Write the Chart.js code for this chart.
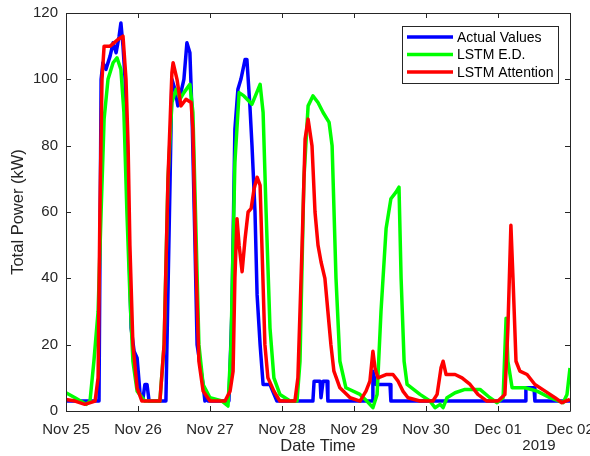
<!DOCTYPE html>
<html>
<head>
<meta charset="utf-8">
<script src="https://cdn.jsdelivr.net/npm/chart.js@4.4.1/dist/chart.umd.min.js"></script>
<style>
  html, body { margin: 0; padding: 0; background: #fff; }
  #wrap { width: 590px; height: 456px; }
</style>
</head>
<body>
<div id="wrap"><canvas id="c"></canvas></div>
<script>
// x 轴：小时（0 = Nov 25 00:00）
var dayLabels = ['Nov 25', 'Nov 26', 'Nov 27', 'Nov 28', 'Nov 29', 'Nov 30', 'Dec 01', 'Dec 02'];
var yearLabel = '2019';
var yTicks = [0, 20, 40, 60, 80, 100, 120];
var seriesNames = ['Actual Values', 'LSTM E.D.', 'LSTM Attention'];

var actualHours = [0, 10.3, 11, 11.7, 12.3, 13.3, 14.7, 15.7, 16.7, 17.7, 18.3, 19, 19.7, 20.7, 21.7, 22.7, 23.7, 24.7, 25.7, 26.3, 27, 27.7,
    33.3, 34.7, 35.3, 36.3, 37.3, 38.3, 39.3, 40.3, 41.3, 42, 43, 43.7, 44.7, 45.7, 46.3, 46.7, 47.3,
    54.3, 55.3, 56.3, 57.3, 58.3, 59.7, 60.3, 61.3, 62, 63, 63.7, 64.7, 65.7, 68, 70.3,
    82.3, 82.7, 84.7, 85, 85.7, 87, 87.3, 102, 102.3, 103.3, 105.7, 108, 108.3, 153, 153.3, 156, 156.3, 168];
var actualValues = [3, 3, 3, 100, 105, 103, 107, 111, 108, 113, 117, 110, 100, 60, 25, 18, 16, 5, 4, 8, 8, 3,
    3, 70, 100, 97, 92, 96, 100, 111, 108, 90, 50, 20, 14, 8, 3, 6, 3,
    3, 30, 85, 97, 100, 106, 106, 92, 80, 60, 35, 20, 8, 8, 3,
    3, 9, 9, 4, 9, 9, 3, 3, 12, 8, 8, 8, 3, 3, 7, 7, 3, 3];

var edHours = [0, 3, 6.7, 8, 9.3, 10.7, 11.7, 12.7, 14, 15.7, 17, 18.3, 19.3, 20.3, 21.3, 22.3, 23.7, 26.3,
    31.3, 32.7, 34, 35.3, 36.7, 38, 39.3, 41.3, 42.3, 43.3, 44.3, 45.7, 48, 52,
    54, 55, 56.3, 57.7, 59.3, 62, 64.7, 65.7, 66.7, 68, 69.3, 71.3, 74.7,
    77, 78, 79.3, 80.7, 82.3, 84, 85.7, 87.7, 88.7, 90, 91.3, 93.3, 98, 100.3,
    102.3, 103.7, 105, 106.7, 108.3, 110, 111, 111.7, 112.7, 113.7, 118, 121.3, 123, 124.7, 125.7, 127,
    129.7, 133, 138, 141.3, 143.7, 145.7, 146.7, 147.3, 148.7, 153, 157, 161.3, 165.7, 167, 168];
var edValues = [5.5, 4, 2, 3, 15, 30, 60, 88, 100, 105, 106.5, 103, 90, 60, 35, 15, 6, 3,
    3, 20, 70, 93, 97, 94, 96, 98.5, 90, 55, 20, 8, 4, 3,
    1.5, 20, 75, 96, 95, 92.5, 98.5, 90, 60, 25, 10, 5, 3,
    3, 15, 70, 92, 95, 93, 90, 87, 80, 40, 15, 7, 5, 3,
    1, 5, 30, 55, 64, 66, 67.5, 40, 15, 8, 5, 3, 1, 2, 1, 4,
    5.5, 6.5, 6.5, 4, 2.5, 4, 28, 15, 7, 7, 6, 4, 2.5, 5, 13];

var attnHours = [0, 3, 6.3, 9.7, 10.7, 11.3, 12, 12.7, 14.7, 16, 17.3, 19, 20, 20.7, 21.3, 22.3, 23.7, 25.3,
    31.3, 32.7, 34, 35.3, 35.7, 37, 38.3, 40, 41.7, 42.3, 43.3, 44.3, 45.7, 48,
    53, 54.7, 55.7, 56.3, 57, 57.7, 58.7, 59.7, 60.7, 61.7, 62.7, 63.7, 64.7, 65.3, 66.3, 67.3, 69.3, 71.3,
    76.3, 77.3, 78.7, 79.7, 80.7, 82, 83, 84, 85, 86.3, 87.3, 88.3, 89.3, 91.3, 94.7, 98,
    100, 101.3, 102.3, 103, 104, 106.7, 109, 110.7, 112.3, 114, 118, 122.3, 123.7, 125, 125.7, 126.7,
    129.7, 132, 134.7, 137.3, 140.3, 144, 146.3, 147.3, 148.3, 149, 150, 151.3, 153.7, 156.3, 159.7, 163, 165.3, 168];
var attnValues = [3.5, 3, 2, 3, 10, 60, 100, 110, 110, 111, 112, 113, 100, 80, 50, 20, 7, 3,
    3, 20, 70, 102, 105, 100, 92, 94, 93, 85, 45, 15, 6, 3,
    3, 6, 12, 40, 58, 50, 42, 52, 60, 61, 67, 70.5, 68, 50, 20, 10, 6, 3,
    3, 10, 50, 82, 88, 80, 60, 50, 45, 40, 30, 20, 12, 7, 4, 3,
    6, 9, 18, 13, 10, 11, 11, 9, 6, 4, 3, 3, 5, 13, 15, 11,
    11, 10, 8, 5, 3, 3, 5, 25, 56, 40, 15, 12, 11, 8, 6, 4, 2.5, 3.5];

var seriesColors = ['#0000ff', '#00ff00', '#ff0000'];
var AXIS_COLOR = '#262626';
var FONT = '"Liberation Sans", Arial, sans-serif';
var LINE_W = 3.5;

function toPoints(hours, values) {
    var pts = [];
    for (var i = 0; i < hours.length; i++) {
        pts.push({ x: hours[i], y: values[i] });
    }
    return pts;
}

// MATLAB 风格：四边框 + 向内刻度 + 图内图例 + 年份
var matlabAxes = {
    id: 'matlabAxes',
    afterDatasetsDraw: function (chart) {
        var ctx = chart.ctx;
        var a = chart.chartArea;
        var xs = chart.scales.x, ys = chart.scales.y;
        var tl = 5;
        ctx.save();
        ctx.strokeStyle = AXIS_COLOR;
        ctx.lineWidth = 1;
        ctx.beginPath();
        ctx.rect(Math.round(a.left) + 0.5, Math.round(a.top) + 0.5,
            Math.round(a.right - a.left), Math.round(a.bottom - a.top));
        xs.ticks.forEach(function (t) {
            var px = Math.round(xs.getPixelForValue(t.value)) + 0.5;
            ctx.moveTo(px, a.bottom); ctx.lineTo(px, a.bottom - tl);
            ctx.moveTo(px, a.top); ctx.lineTo(px, a.top + tl);
        });
        ys.ticks.forEach(function (t) {
            var py = Math.round(ys.getPixelForValue(t.value)) + 0.5;
            ctx.moveTo(a.left, py); ctx.lineTo(a.left + tl, py);
            ctx.moveTo(a.right, py); ctx.lineTo(a.right - tl, py);
        });
        ctx.stroke();
        ctx.restore();
    },
    afterDraw: function (chart) {
        var ctx = chart.ctx;
        var a = chart.chartArea;
        ctx.save();
        // 年份
        ctx.fillStyle = AXIS_COLOR;
        ctx.font = '15px ' + FONT;
        ctx.textAlign = 'center';
        ctx.textBaseline = 'middle';
        ctx.fillText(yearLabel, a.right - 31, 446);

        // 图例
        var bx = a.right - 168, by = a.top + 13, bw = 156, bh = 57;
        ctx.fillStyle = '#fff';
        ctx.fillRect(bx, by, bw, bh);
        ctx.strokeStyle = AXIS_COLOR;
        ctx.lineWidth = 1;
        ctx.strokeRect(bx + 0.5, by + 0.5, bw, bh);
        ctx.font = '14px ' + FONT;
        ctx.textAlign = 'left';
        chart.data.datasets.forEach(function (ds, i) {
            var ry = by + 11 + i * 17.5;
            ctx.strokeStyle = ds.borderColor;
            ctx.lineWidth = LINE_W;
            ctx.beginPath();
            ctx.moveTo(bx + 5, ry);
            ctx.lineTo(bx + 51, ry);
            ctx.stroke();
            ctx.fillStyle = '#000';
            ctx.fillText(ds.label, bx + 55, ry + 1);
        });
        ctx.restore();
    }
};

var datasets = [
    toPoints(actualHours, actualValues),
    toPoints(edHours, edValues),
    toPoints(attnHours, attnValues)
].map(function (pts, i) {
    return {
        label: seriesNames[i],
        data: pts,
        borderColor: seriesColors[i],
        backgroundColor: seriesColors[i],
        borderWidth: LINE_W,
        borderJoinStyle: 'round',
        pointRadius: 0,
        tension: 0,
        fill: false,
        order: 3 - i
    };
});

new Chart(document.getElementById('c'), {
    type: 'line',
    data: { datasets: datasets },
    options: {
        responsive: true,
        maintainAspectRatio: false,
        animation: false,
        layout: { padding: { top: 13, right: 20, left: 0, bottom: 0 } },
        plugins: {
            legend: { display: false },
            tooltip: { enabled: false }
        },
        scales: {
            x: {
                type: 'linear',
                min: 0,
                max: 168,
                grid: { display: true, drawOnChartArea: false, drawTicks: false },
                border: { display: false },
                afterBuildTicks: function (scale) {
                    scale.ticks = dayLabels.map(function (l, i) { return { value: i * 24 }; });
                },
                afterFit: function (scale) {
                    scale.height = 45;
                    scale.paddingLeft = 0;
                    scale.paddingRight = 0;
                },
                ticks: {
                    color: AXIS_COLOR,
                    font: { family: FONT, size: 15 },
                    padding: 10,
                    maxRotation: 0,
                    autoSkip: false,
                    callback: function (v) { return dayLabels[Math.round(v / 24)]; }
                },
                title: {
                    display: true,
                    text: 'Date Time',
                    color: AXIS_COLOR,
                    font: { family: FONT, size: 16.5 },
                    padding: { top: 0, bottom: 0 }
                }
            },
            y: {
                min: 0,
                max: 120,
                grid: { display: true, drawOnChartArea: false, drawTicks: false },
                border: { display: false },
                afterBuildTicks: function (scale) {
                    scale.ticks = yTicks.map(function (v) { return { value: v }; });
                },
                afterFit: function (scale) {
                    scale.width = 66;
                    scale.paddingTop = 0;
                    scale.paddingBottom = 0;
                },
                ticks: {
                    color: AXIS_COLOR,
                    font: { family: FONT, size: 15 },
                    padding: 8
                },
                title: {
                    display: true,
                    text: 'Total Power (kW)',
                    color: AXIS_COLOR,
                    font: { family: FONT, size: 16.5 },
                    padding: { top: 9, bottom: 0 }
                }
            }
        }
    },
    plugins: [matlabAxes]
});
</script>
</body>
</html>
